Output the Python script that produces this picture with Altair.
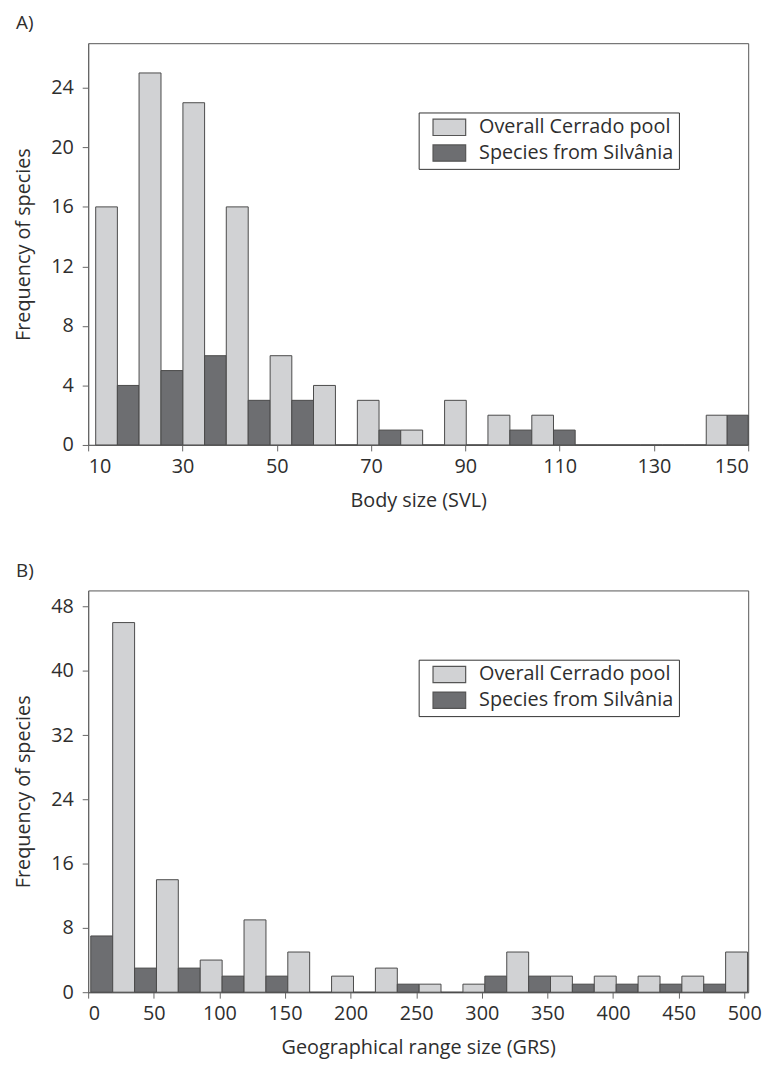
import altair as alt
import pandas as pd

# ---------------- data ----------------
series = ["Overall Cerrado pool", "Species from Silvânia"]
colors = ["#d1d2d4", "#6d6e71"]

# Panel A: body size (SVL) bins (edges) and counts
a_edges = [11.6, 20.8, 30.1, 39.3, 48.6, 57.8, 67.1, 76.3, 85.6, 94.8,
           104.1, 113.3, 122.6, 131.8, 141.1, 150.0]
a_cerrado = [16, 25, 23, 16, 6, 4, 3, 1, 3, 2, 2, 0, 0, 0, 2]
a_silvania = [4, 5, 6, 3, 3, 0, 1, 0, 0, 1, 1, 0, 0, 0, 2]
a_xticks = [10, 30, 50, 70, 90, 110, 130, 150]
a_yticks = [0, 4, 8, 12, 16, 20, 24]

# Panel B: geographical range size (GRS) bins (edges) and counts
b_edges = [2.0, 35.4, 68.7, 102.1, 135.5, 168.8, 202.2, 235.6, 268.9, 302.3,
           335.7, 369.0, 402.4, 435.8, 469.1, 502.5]
b_cerrado = [46, 14, 4, 9, 5, 2, 3, 1, 1, 5, 2, 2, 2, 2, 5]
b_silvania = [7, 3, 3, 2, 2, 0, 0, 1, 0, 2, 2, 1, 1, 1, 1]
b_xticks = [0, 50, 100, 150, 200, 250, 300, 350, 400, 450, 500]
b_yticks = [0, 8, 16, 24, 32, 40, 48]

FONT = "Open Sans"
TXT = "#2e2e2e"


def build_df(edges, cerrado, silvania, silvania_first):
    rows = []
    for i in range(len(cerrado)):
        lo, hi = edges[i], edges[i + 1]
        mid = (lo + hi) / 2
        if silvania_first:
            rows.append(dict(series=series[1], x0=lo, x1=mid, count=silvania[i]))
            rows.append(dict(series=series[0], x0=mid, x1=hi, count=cerrado[i]))
        else:
            rows.append(dict(series=series[0], x0=lo, x1=mid, count=cerrado[i]))
            rows.append(dict(series=series[1], x0=mid, x1=hi, count=silvania[i]))
    return pd.DataFrame(rows)


def panel(df, label, xdom, xticks, xtitle, ydom, yticks):
    return alt.Chart(
        df,
        title=alt.TitleParams(label, anchor="start", font=FONT, fontSize=19,
                              fontWeight="normal", color=TXT, offset=10, dx=2),
    ).mark_rect(stroke="#4a4a4a", strokeWidth=1).encode(
        x=alt.X("x0:Q", scale=alt.Scale(domain=xdom, nice=False, zero=False),
                axis=alt.Axis(values=xticks, title=xtitle, grid=False)),
        x2="x1:Q",
        y=alt.Y("count:Q", scale=alt.Scale(domain=ydom, nice=False),
                axis=alt.Axis(values=yticks, title="Frequency of species", grid=False)),
        y2=alt.datum(0),
        fill=alt.Fill(
            "series:N",
            scale=alt.Scale(domain=series, range=colors),
            legend=alt.Legend(
                title=None, orient="none", legendX=334, legendY=70,
                direction="vertical",
                strokeColor="#333", fillColor="white", padding=5,
                symbolType="M-2,-1H2V1H-2Z", symbolSize=272,
                symbolStrokeColor="#555", symbolStrokeWidth=1.2,
                symbolOpacity=1, symbolOffset=16,
                labelFont=FONT, labelFontSize=20, labelColor=TXT,
                labelOffset=20, rowPadding=4, labelLimit=400,
            ),
        ),
    ).properties(width=667, height=406)


dfa = build_df(a_edges, a_cerrado, a_silvania, silvania_first=False)
dfb = build_df(b_edges, b_cerrado, b_silvania, silvania_first=True)

ca = panel(dfa, "A)", [10, 150], a_xticks, "Body size (SVL)", [0, 27], a_yticks)
cb = panel(dfb, "B)", [0, 503], b_xticks, "Geographical range size (GRS)", [0, 50], b_yticks)

chart = alt.vconcat(ca, cb, spacing=50).resolve_scale(fill="independent").resolve_legend(
    fill="independent"
).properties(
    padding={"left": 5, "top": 0, "right": 5, "bottom": 2}
).configure_view(
    stroke="#555", strokeWidth=1
).configure_axis(
    labelFont=FONT, titleFont=FONT, labelFontSize=20, titleFontSize=20,
    labelColor=TXT, titleColor=TXT, titleFontWeight="normal",
    domainColor="#666", tickColor="#666", tickSize=6, domainWidth=1.2,
).configure_axisX(
    labelPadding=6, titlePadding=14,
).configure_axisY(
    labelPadding=9, titlePadding=17,
)

chart.save("out.html", embed_options={"renderer": "svg", "actions": False})
